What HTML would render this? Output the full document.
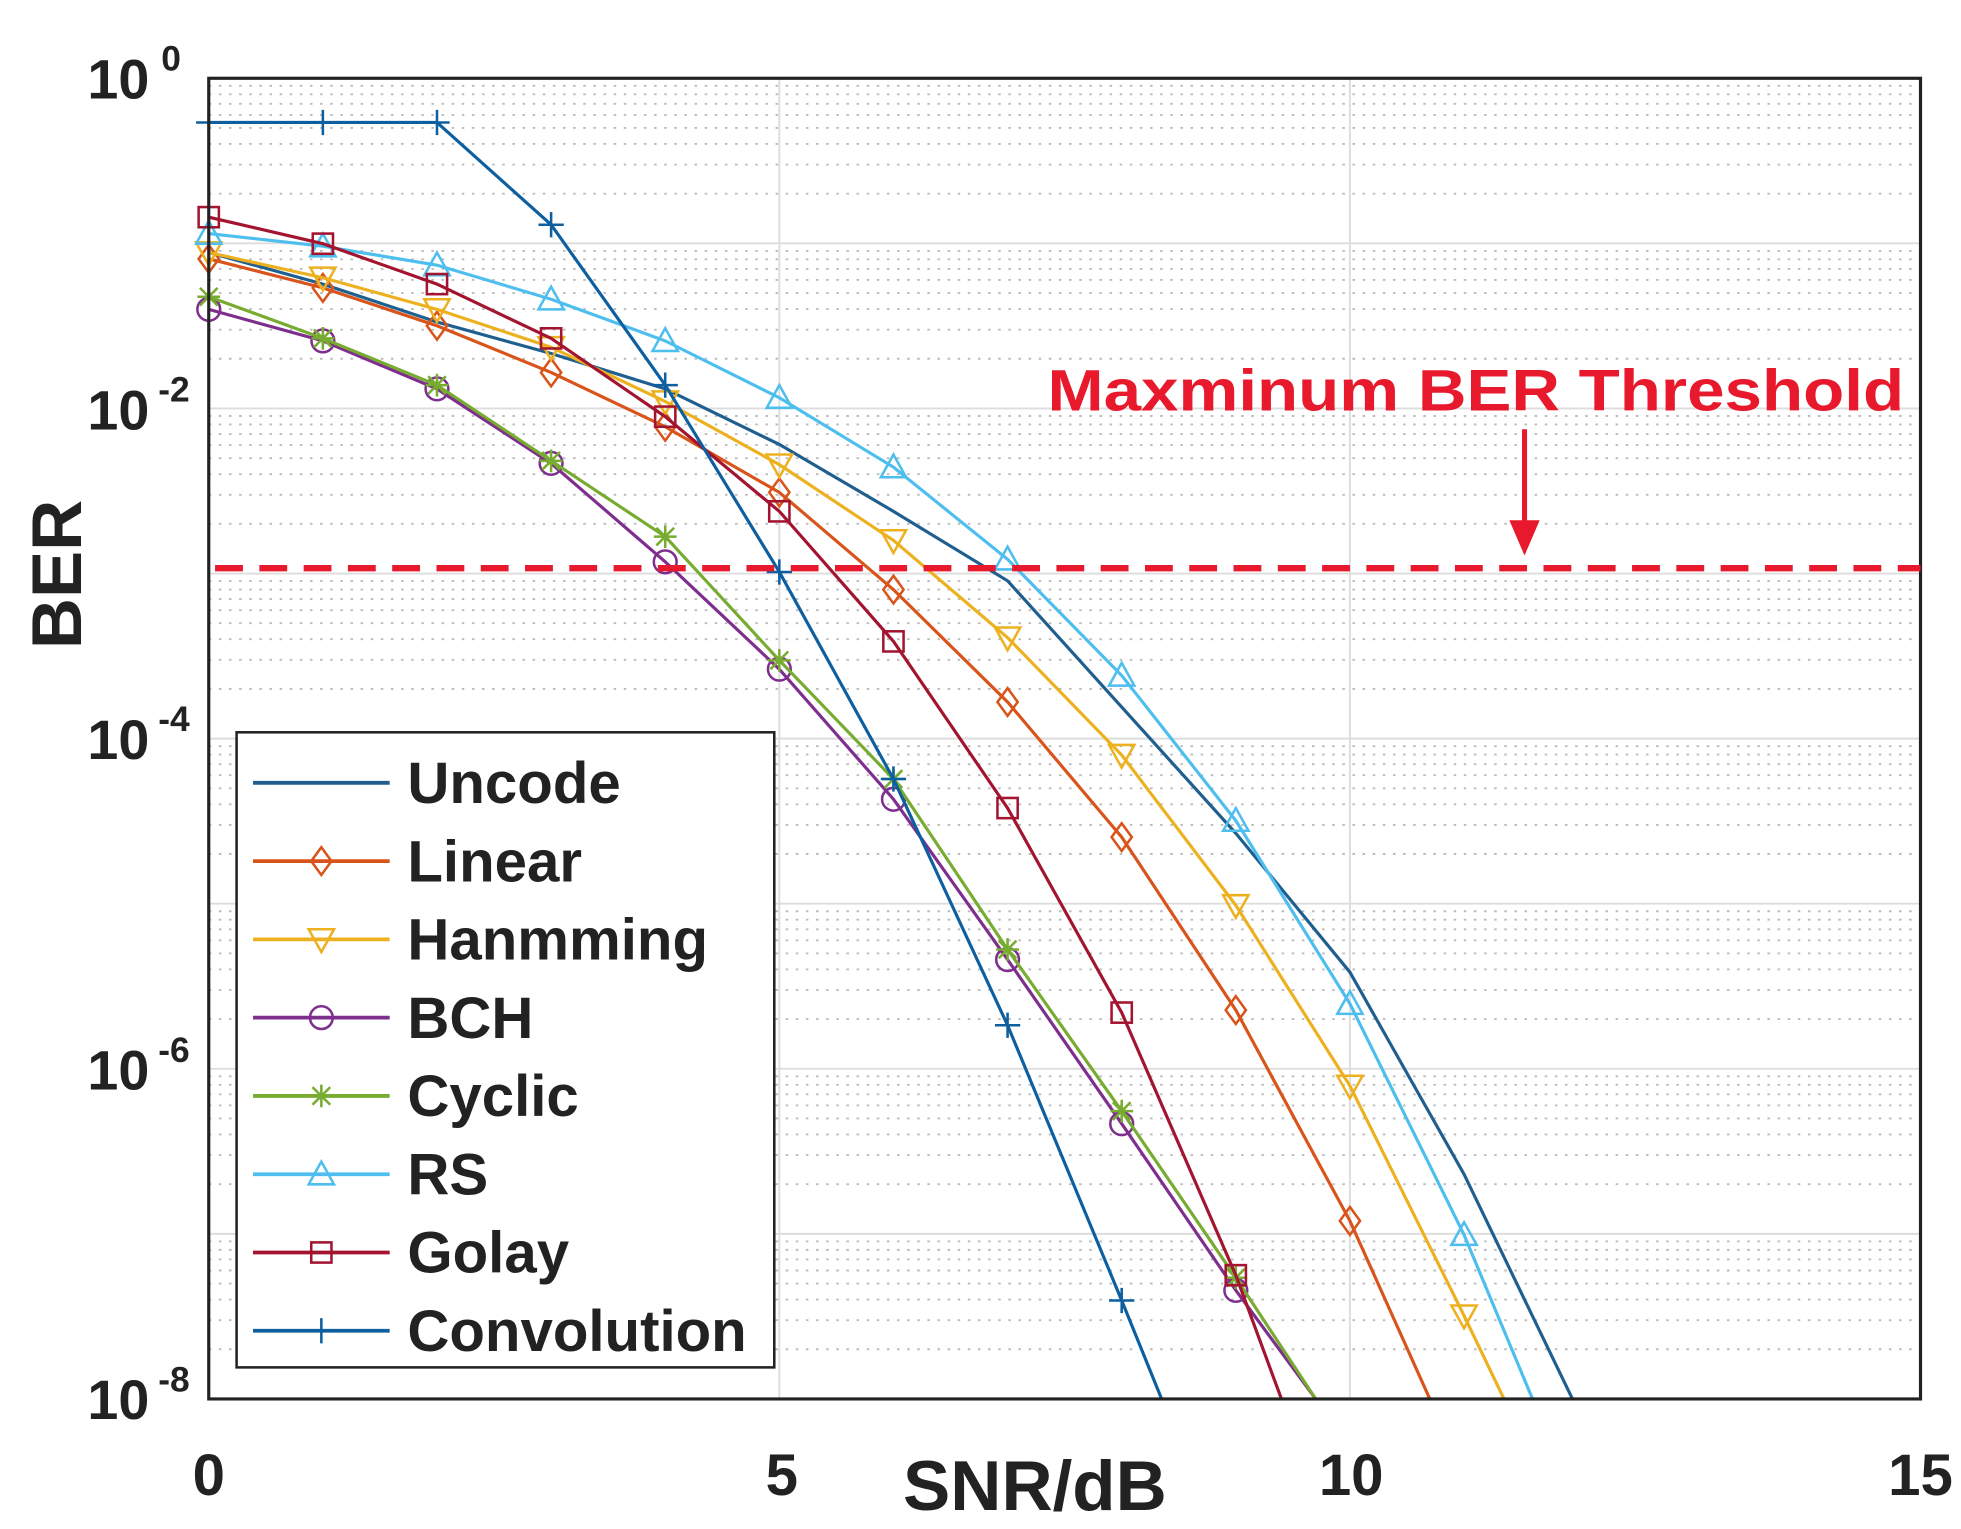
<!DOCTYPE html>
<html><head><meta charset="utf-8"><style>
html,body{margin:0;padding:0;background:#fff;width:1961px;height:1529px;overflow:hidden}
svg{display:block}
text{font-family:"Liberation Sans",Arial,sans-serif;font-weight:bold}
</style></head><body>
<svg width="1961" height="1529" viewBox="0 0 1550 1211" preserveAspectRatio="none" xmlns="http://www.w3.org/2000/svg">
<g id="grid"></g>
<g id="series"></g>
<rect x="165" y="62" width="1353" height="1046" fill="none" stroke="#222" stroke-width="2.5"/>
<line x1="170" y1="450" x2="1518" y2="450" stroke="#e8192c" stroke-width="5" stroke-dasharray="22,13"/>
<text x="828" y="325" font-size="46" fill="#e8192c" textLength="677" lengthAdjust="spacingAndGlyphs">Maxminum BER Threshold</text>
<line x1="1205" y1="340" x2="1205" y2="420" stroke="#e8192c" stroke-width="4"/>
<polygon points="1193,412 1217,412 1205,440" fill="#e8192c"/>
<g font-size="44" fill="#222" text-anchor="end">
<text x="118" y="78">10</text><text x="143" y="56" font-size="28">0</text>
<text x="118" y="340">10</text><text x="150" y="318" font-size="28">-2</text>
<text x="118" y="601">10</text><text x="150" y="579" font-size="28">-4</text>
<text x="118" y="863">10</text><text x="150" y="841" font-size="28">-6</text>
<text x="118" y="1124">10</text><text x="150" y="1102" font-size="28">-8</text>
</g>
<g font-size="46" fill="#222" text-anchor="middle">
<text x="165" y="1184">0</text><text x="618" y="1184">5</text><text x="1068" y="1184">10</text><text x="1518" y="1184">15</text>
<text x="818" y="1196" font-size="56">SNR/dB</text>
</g>
<text transform="translate(64,455) rotate(-90)" font-size="56" text-anchor="middle" fill="#222">BER</text>
<rect x="187" y="580" width="425" height="503" fill="#fff" stroke="#222" stroke-width="2"/>
<g id="legend"></g>
<script>
const X=s=>165+s*90.2, Y=l=>62-l*130.75;
const ns="http://www.w3.org/2000/svg";
function el(p,t,a){const e=document.createElementNS(ns,t);for(const k in a)e.setAttribute(k,a[k]);p.appendChild(e);return e;}
const G=document.getElementById('grid');
for(let d=0;d<8;d++){for(let m=2;m<=9;m++){const y=Y(-d-1+Math.log10(m));el(G,'line',{x1:165,x2:1518,y1:y,y2:y,stroke:'#bbb','stroke-width':1.5,'stroke-dasharray':'2,6'});}}
for(let d=1;d<8;d++){el(G,'line',{x1:165,x2:1518,y1:Y(-d),y2:Y(-d),stroke:'#ddd','stroke-width':1.5});}
for(const s of [5,10]){el(G,'line',{x1:X(s),x2:X(s),y1:62,y2:1108,stroke:'#ddd','stroke-width':1.5});}
const S=[
 {n:'Uncode',c:'#1f5f8f',m:null,p:[[0,200],[1,225],[2,255],[3,280],[4,308],[5,352],[6,405],[7,460],[8,560],[9,660],[10,770],[11,930],[11.95,1108]]},
 {n:'Linear',c:'#d9541a',m:'dia',p:[[0,205],[1,228],[2,258],[3,295],[4,338],[5,390],[6,467],[7,556],[8,663],[9,800],[10,967],[10.7,1108]]},
 {n:'Hanmming',c:'#edb120',m:'tdn',p:[[0,200],[1,220],[2,245],[3,275],[4,318],[5,368],[6,428],[7,505],[8,598],[9,717],[10,860],[11,1042],[11.35,1108]]},
 {n:'BCH',c:'#7e2f8e',m:'cir',p:[[0,245],[1,270],[2,308],[3,367],[4,445],[5,530],[6,633],[7,760],[8,890],[9,1022],[9.7,1108]]},
 {n:'Cyclic',c:'#77ac30',m:'star',p:[[0,235],[1,268],[2,305],[3,365],[4,425],[5,523],[6,617],[7,752],[8,880],[9,1012],[9.7,1108]]},
 {n:'RS',c:'#4dbeee',m:'tup',p:[[0,185],[1,195],[2,210],[3,237],[4,270],[5,315],[6,370],[7,443],[8,535],[9,650],[10,795],[11,978],[11.6,1108]]},
 {n:'Golay',c:'#a2142f',m:'sq',p:[[0,172],[1,193],[2,225],[3,268],[4,330],[5,405],[6,508],[7,640],[8,802],[9,1010],[9.4,1108]]},
 {n:'Convolution',c:'#0d5fa0',m:'plus',p:[[0,97],[1,97],[2,97],[3,178],[4,305],[5,453],[6,617],[7,812],[8,1030],[8.35,1108]]}
];
function mk(g,t,x,y,c){const a={fill:'none',stroke:c,'stroke-width':2};
 if(t=='dia')el(g,'polygon',Object.assign({points:`${x},${y-11} ${x+8},${y} ${x},${y+11} ${x-8},${y}`},a));
 if(t=='tdn')el(g,'polygon',Object.assign({points:`${x-10},${y-8} ${x+10},${y-8} ${x},${y+10}`},a));
 if(t=='tup')el(g,'polygon',Object.assign({points:`${x-10},${y+8} ${x+10},${y+8} ${x},${y-10}`},a));
 if(t=='cir')el(g,'circle',Object.assign({cx:x,cy:y,r:9},a));
 if(t=='sq')el(g,'rect',Object.assign({x:x-8,y:y-8,width:16,height:16},a));
 if(t=='plus'){el(g,'path',Object.assign({d:`M${x-10} ${y}H${x+10}M${x} ${y-10}V${y+10}`},a));}
 if(t=='star'){el(g,'path',Object.assign({d:`M${x-9} ${y}H${x+9}M${x} ${y-9}V${y+9}M${x-7} ${y-7}L${x+7} ${y+7}M${x-7} ${y+7}L${x+7} ${y-7}`},a));}
}
const SG=document.getElementById('series'),LG=document.getElementById('legend');
S.forEach((s,i)=>{
 el(SG,'polyline',{points:s.p.map(q=>X(q[0])+','+q[1]).join(' '),fill:'none',stroke:s.c,'stroke-width':2.5});
 if(s.m)s.p.forEach(q=>{if(Number.isInteger(q[0]))mk(SG,s.m,X(q[0]),q[1],s.c);});
 const ly=620+i*62;
 el(LG,'line',{x1:200,x2:308,y1:ly,y2:ly,stroke:s.c,'stroke-width':3});
 if(s.m)mk(LG,s.m,254,ly,s.c);
 const t=el(LG,'text',{x:322,y:ly+16,'font-size':46,fill:'#222'});t.textContent=s.n;
});
</script>
</svg>
</body></html>
